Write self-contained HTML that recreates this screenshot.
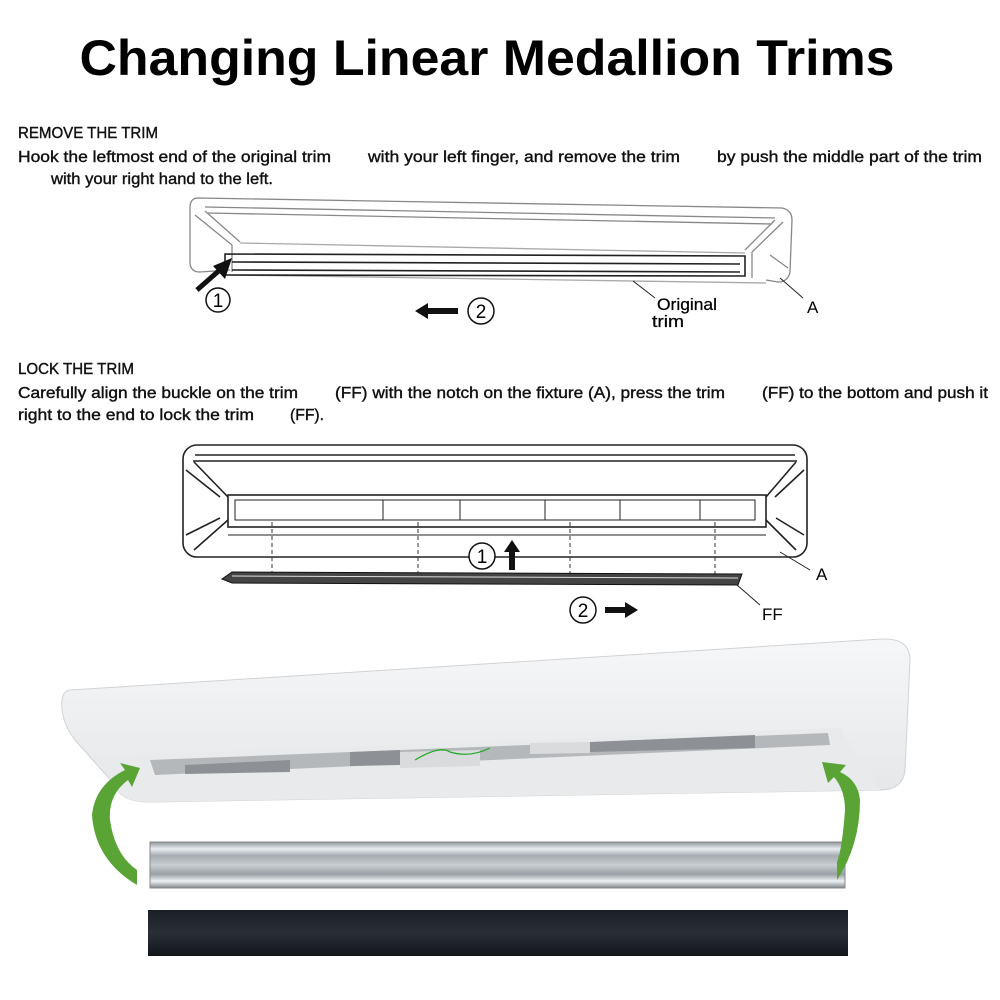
<!DOCTYPE html>
<html><head><meta charset="utf-8"><style>
html,body{margin:0;padding:0;background:#fff;}
svg{display:block;}
.t{font-family:"Liberation Sans",sans-serif;}
</style></head><body>
<svg width="1000" height="1000" viewBox="0 0 1000 1000" xmlns="http://www.w3.org/2000/svg">
<defs>
<linearGradient id="al" x1="0" y1="0" x2="0" y2="1">
<stop offset="0" stop-color="#8f959a"/><stop offset="0.15" stop-color="#e8ecef"/><stop offset="0.3" stop-color="#a5abb0"/><stop offset="0.5" stop-color="#c9ced2"/><stop offset="0.7" stop-color="#9aa0a5"/><stop offset="0.85" stop-color="#eef1f3"/><stop offset="1" stop-color="#80868b"/>
</linearGradient>
<linearGradient id="bk" x1="0" y1="0" x2="0" y2="1">
<stop offset="0" stop-color="#1b2026"/><stop offset="0.5" stop-color="#2a2f36"/><stop offset="1" stop-color="#12161b"/>
</linearGradient>
<linearGradient id="wh" x1="0" y1="0" x2="0" y2="1">
<stop offset="0" stop-color="#f6f7f8"/><stop offset="1" stop-color="#e4e6e8"/>
</linearGradient>
</defs>
<text class="t" x="487" y="75" text-anchor="middle" font-size="50" font-weight="bold" textLength="815" lengthAdjust="spacingAndGlyphs">Changing Linear Medallion Trims</text>
<g class="t" font-size="16" fill="#111" stroke="#111" stroke-width="0.4">
<text x="18" y="138" textLength="140" lengthAdjust="spacingAndGlyphs">REMOVE THE TRIM</text>
<text x="18" y="162" textLength="313" lengthAdjust="spacingAndGlyphs">Hook the leftmost end of the original trim</text>
<text x="368" y="162" textLength="312" lengthAdjust="spacingAndGlyphs">with your left finger, and remove the trim</text>
<text x="717" y="162" textLength="265" lengthAdjust="spacingAndGlyphs">by push the middle part of the trim</text>
<text x="51" y="184" textLength="222" lengthAdjust="spacingAndGlyphs">with your right hand to the left.</text>
<text x="18" y="374" textLength="116" lengthAdjust="spacingAndGlyphs">LOCK THE TRIM</text>
<text x="18" y="398" textLength="280" lengthAdjust="spacingAndGlyphs">Carefully align the buckle on the trim</text>
<text x="335" y="398" textLength="390" lengthAdjust="spacingAndGlyphs">(FF) with the notch on the fixture (A), press the trim</text>
<text x="762" y="398" textLength="226" lengthAdjust="spacingAndGlyphs">(FF) to the bottom and push it</text>
<text x="18" y="420" textLength="236" lengthAdjust="spacingAndGlyphs">right to the end to lock the trim</text>
<text x="290" y="420" textLength="34" lengthAdjust="spacingAndGlyphs">(FF).</text>
</g>
<!-- diagram 1 -->
<g fill="none" stroke="#888" stroke-width="1.3">
<path d="M198,198 L782,208 Q792,210 792,220 L790,272 Q788,282 778,282 L766,280 M198,198 Q190,198 190,208 L190,262 Q190,272 200,272 L230,270"/>
<path d="M205,207 L775,218 M208,213 L772,224"/>
<path d="M195,215 L232,245 M205,211 L240,242 M783,222 L752,252 M775,220 L745,250 M770,255 L788,268"/>
<path d="M232,245 L232,272 M752,252 L752,278"/>
<path d="M240,243 L745,253" stroke="#aaa"/>
<path d="M230,275 L766,283" stroke="#aaa"/>
</g>
<g fill="none" stroke="#222" stroke-width="1.6">
<path d="M225,254 L745,256 L745,276 L225,275 Z"/>
<path d="M232,262 L740,264 M232,270 L740,272"/>
</g>
<path d="M197,290 L222,268" stroke="#111" stroke-width="5"/>
<polygon points="232,258 213,266 225,279" fill="#111"/>
<circle cx="218" cy="300" r="12" fill="#fff" stroke="#111" stroke-width="1.5"/>
<text class="t" x="218" y="307" text-anchor="middle" font-size="19">1</text>
<polygon points="415,311 428,303 428,308 458,308 458,314 428,314 428,319" fill="#111"/>
<circle cx="481" cy="311" r="13" fill="#fff" stroke="#111" stroke-width="1.5"/>
<text class="t" x="481" y="318" text-anchor="middle" font-size="19">2</text>
<path d="M633,281 L655,298 M780,278 L803,298" stroke="#222" stroke-width="1"/>
<text class="t" x="657" y="310" font-size="17" textLength="60" lengthAdjust="spacingAndGlyphs" stroke="#111" stroke-width="0.3">Original</text>
<text class="t" x="652" y="327" font-size="17" textLength="32" lengthAdjust="spacingAndGlyphs" stroke="#111" stroke-width="0.3">trim</text>
<text class="t" x="807" y="313" font-size="17">A</text>
<!-- diagram 2 -->
<g fill="none" stroke="#222" stroke-width="1.6">
<rect x="183" y="445" width="624" height="112" rx="14"/>
<path d="M195,455 L795,455 M193,461 L797,461"/>
<path d="M186,470 L220,497 M194,462 L228,497 M804,470 L775,497 M796,462 L766,497"/>
<path d="M186,535 L220,518 M194,550 L228,520 M804,535 L776,518 M796,550 L766,520"/>
<rect x="228" y="495" width="538" height="32"/>
<rect x="235" y="500" width="520" height="20" stroke-width="1"/>
<path d="M228,535 L766,535" stroke-width="1"/>
<path d="M383,500 L383,520 M460,500 L460,520 M545,500 L545,520 M620,500 L620,520 M700,500 L700,520" stroke-width="1"/>
</g>
<g stroke="#333" stroke-width="1" stroke-dasharray="4,3">
<path d="M272,522 L272,575 M418,522 L418,575 M570,522 L570,575 M715,522 L715,575"/>
</g>
<path d="M222,579 L232,572 L742,574 L738,585 L232,583 Z" fill="#444" stroke="#111" stroke-width="1"/>
<path d="M232,576 L738,578" stroke="#ddd" stroke-width="1"/>
<circle cx="482" cy="556" r="13" fill="#fff" stroke="#111" stroke-width="1.5"/>
<text class="t" x="482" y="563" text-anchor="middle" font-size="19">1</text>
<polygon points="512,540 504,552 509,552 509,570 515,570 515,552 520,552" fill="#111"/>
<circle cx="583" cy="610" r="13" fill="#fff" stroke="#111" stroke-width="1.5"/>
<text class="t" x="583" y="617" text-anchor="middle" font-size="19">2</text>
<polygon points="638,610 625,602 625,607 605,607 605,613 625,613 625,618" fill="#111"/>
<path d="M780,552 L810,570 M737,585 L760,605" stroke="#222" stroke-width="1"/>
<text class="t" x="816" y="580" font-size="17">A</text>
<text class="t" x="762" y="620" font-size="17">FF</text>
<!-- photo fixture -->
<path d="M70,690 L882,639 Q910,638 910,660 L905,770 Q903,790 880,790 L150,802 Q120,802 115,785 L75,740 Q60,720 62,700 Q63,691 70,690 Z" fill="url(#wh)" stroke="#d0d3d6" stroke-width="1"/>
<path d="M140,755 L840,728 L880,790 L150,802 Q120,802 115,785 Z" fill="#e8eaec"/>
<path d="M150,760 L828,733 L830,745 L155,775 Z" fill="#b5b8bb"/>
<path d="M185,765 L290,760 L290,772 L185,774 Z M350,752 L400,750 L400,765 L350,766 Z M590,742 L755,735 L755,748 L590,752 Z" fill="#8d9195"/>
<path d="M400,752 L480,750 L480,766 L400,768 Z M530,743 L590,742 L590,753 L530,754 Z" fill="#d9dbdd"/>
<path d="M415,760 Q440,745 450,752 Q470,758 490,748" stroke="#2a2" stroke-width="1.2" fill="none"/>
<!-- trims -->
<rect x="150" y="842" width="695" height="46" fill="url(#al)" stroke="#888" stroke-width="1"/>
<rect x="148" y="910" width="700" height="46" fill="url(#bk)"/>
<!-- green arrows -->
<path d="M137,885 Q95,860 92,815 Q95,785 125,770 L120,763 L140,768 L132,787 L128,780 Q108,795 110,820 Q115,855 137,870 Z" fill="#5aa436"/>
<path d="M837,880 Q860,845 860,800 Q858,780 840,772 L846,765 L822,762 L828,783 L834,777 Q845,790 845,810 Q842,850 837,862 Z" fill="#5aa436"/>
</svg>
</body></html>
